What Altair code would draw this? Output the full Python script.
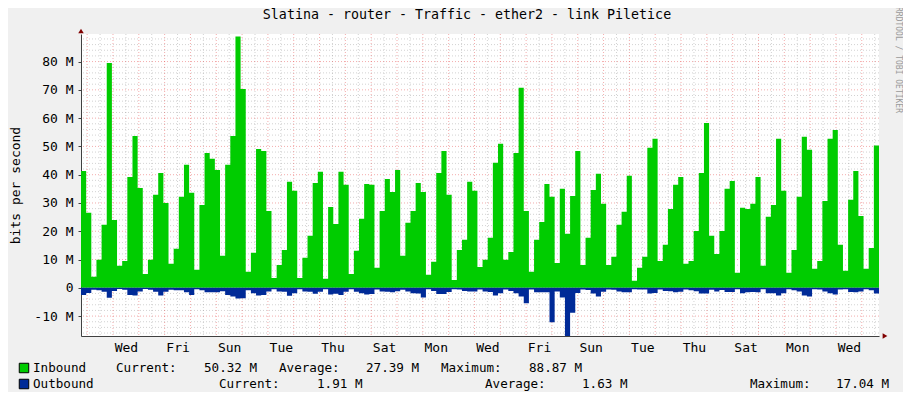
import altair as alt
import pandas as pd

# ---------------- data (Mbit/s) ----------------
inbound = [
    41.3, 26.5, 3.9, 9.9, 22.3, 79.5, 24.0, 7.8, 9.5, 39.2, 53.7, 35.3, 4.9, 9.9, 32.9, 40.6,
    30.0, 8.5, 13.8, 32.2, 43.5, 33.6, 6.4, 29.3, 47.7, 45.6, 41.7, 11.3, 43.5, 53.7, 88.9,
    70.3, 5.7, 12.4, 49.1, 48.4, 27.2, 3.5, 8.1, 13.4, 37.5, 34.3, 3.5, 10.6, 18.4, 37.1, 41.0,
    3.2, 28.6, 22.6, 41.0, 36.4, 4.9, 13.1, 24.4, 36.7, 36.4, 7.1, 27.2, 38.5, 33.9, 41.7,
    11.3, 23.0, 27.2, 37.1, 33.9, 4.6, 9.2, 40.6, 48.4, 32.9, 2.8, 13.4, 17.0, 37.5, 34.3,
    7.4, 9.9, 17.7, 44.2, 50.9, 9.9, 12.7, 47.7, 70.7, 27.2, 5.7, 17.0, 23.3, 36.7, 32.2, 8.8,
    35.0, 19.1, 32.5, 48.4, 8.1, 17.7, 34.6, 40.3, 29.7, 8.1, 11.0, 22.3, 26.9, 39.6, 2.5,
    7.1, 11.0, 49.5, 52.7, 9.5, 15.2, 27.9, 36.4, 39.2, 8.5, 9.5, 20.1, 40.6, 58.3, 18.4, 12.0,
    20.1, 35.0, 37.8, 5.3, 28.3, 27.9, 29.7, 39.2, 7.8, 25.1, 29.3, 52.7, 34.3, 5.3, 13.4,
    32.2, 53.4, 48.8, 6.7, 9.5, 30.7, 52.7, 55.8, 15.2, 6.0, 31.1, 41.3, 25.4, 6.7, 14.1, 50.3,
]
outbound = [
    2.5, 1.8, 0.7, 0.9, 1.4, 3.5, 1.1, 0.4, 0.7, 2.5, 2.7, 1.3, 0.4, 0.7, 1.4, 2.7,
    1.4, 0.7, 0.9, 0.9, 1.6, 2.5, 0.5, 0.9, 1.6, 1.6, 1.6, 1.2, 2.5, 3.1, 3.8,
    3.7, 0.9, 1.9, 2.7, 2.5, 1.3, 0.5, 1.3, 1.4, 2.8, 1.9, 0.5, 1.3, 1.4, 2.1, 1.4,
    0.5, 2.4, 2.1, 2.5, 1.4, 0.5, 1.4, 1.9, 2.4, 2.2, 0.6, 1.3, 1.4, 1.6, 1.2,
    0.7, 1.3, 1.9, 2.0, 3.4, 0.5, 1.1, 2.2, 2.2, 1.5, 0.5, 0.6, 1.1, 1.3, 1.3,
    0.6, 1.3, 1.5, 2.7, 1.9, 0.6, 1.1, 1.9, 3.1, 5.5, 0.6, 1.6, 1.6, 1.6, 12.2, 1.3,
    3.4, 17.0, 8.8, 1.8, 0.6, 0.8, 2.0, 3.1, 1.4, 0.6, 0.7, 1.3, 1.6, 1.6, 0.5,
    0.6, 0.6, 2.0, 1.8, 0.6, 1.1, 1.2, 1.6, 1.4, 0.6, 0.9, 1.2, 2.0, 2.0, 0.7, 1.3,
    0.8, 1.5, 1.5, 0.5, 1.9, 1.6, 1.5, 1.6, 0.5, 1.9, 1.9, 2.7, 1.9, 0.5, 0.9,
    1.3, 2.7, 3.1, 0.5, 0.6, 1.3, 1.9, 2.4, 0.6, 0.5, 1.5, 1.6, 1.3, 0.5, 0.9, 2.0,
]

# time axis in days; day 0 = Monday 00:00
t_start = 0.761          # first sample (Monday ~18:15)
t_span = 30.906          # days shown
day_names = ["Mon", "Tue", "Wed", "Thu", "Fri", "Sat", "Sun"]
x_label_days = [d + 0.5 for d in range(2, 31, 2)]      # Wed, Fri, ... at noon
midnights = list(range(1, 32))
noons = [d + 0.5 for d in range(1, 32)]

y_min, y_max = -17.04, 89.75
y_major = [-10, 0, 10, 20, 30, 40, 50, 60, 70, 80]
y_minor = [v for v in range(-16, 90, 2) if v % 10 != 0]

title_text = "Slatina - router - Traffic - ether2 - link Piletice"
legend_in = ["Inbound", "Current:", "50.32 M", "Average:", "27.39 M", "Maximum:", "88.87 M"]
legend_out = ["Outbound", "Current:", "1.91 M", "Average:", "1.63 M", "Maximum:", "17.04 M"]
side_text = "RRDTOOL / TOBI OETIKER"

IN_COLOR = "#00CC00"
OUT_COLOR = "#002A97"
FONT = "DejaVu Sans Mono"

# ---------------- build table ----------------
n = len(inbound)
step = t_span / n
xs = [t_start + i * step for i in range(n + 1)]
df = pd.DataFrame({
    "t": xs,
    "inb": inbound + [inbound[-1]],
    "outb": [-v for v in outbound] + [-outbound[-1]],
})

X_SCALE = alt.Scale(domain=[t_start, t_start + t_span], nice=False, zero=False)
Y_SCALE = alt.Scale(domain=[y_min, y_max], nice=False, zero=False)

W, H = 798, 302

label_expr_x = "['" + "','".join(day_names) + "'][floor(datum.value) % 7]"

x_axis = alt.Axis(
    values=x_label_days,
    labelExpr=label_expr_x,
    title=None, grid=False, ticks=False, labelFont=FONT, labelFontSize=13,
    labelColor="#000000", labelPadding=5, domainColor="#404040", labelFlush=False,
)
y_axis = alt.Axis(
    values=y_major,
    labelExpr="datum.value == 0 ? '0' : datum.value + ' M'",
    title="bits per second", titleFont=FONT, titleFontSize=13, titleFontWeight="normal",
    titleColor="#000000", titleAngle=270, titleX=-66, titleY=151, titleAlign="center",
    titleBaseline="middle",
    grid=False, tickSize=3, tickColor="#404040", labelFont=FONT, labelFontSize=13,
    labelColor="#000000", labelPadding=5, domainColor="#404040",
)

# grid layers (share the same axis definitions so the axes merge cleanly)
def hgrid(vals, color, opacity):
    return alt.Chart(pd.DataFrame({"v": vals})).mark_rule(
        color=color, strokeDash=[1, 2], strokeWidth=1, opacity=opacity
    ).encode(y=alt.Y("v:Q", scale=Y_SCALE, axis=y_axis))

def vgrid(vals, color, opacity):
    return alt.Chart(pd.DataFrame({"v": vals})).mark_rule(
        color=color, strokeDash=[1, 2], strokeWidth=1, opacity=opacity
    ).encode(x=alt.X("v:Q", scale=X_SCALE, axis=x_axis))

g_minor_h = hgrid(y_minor, "#8F8F8F", 0.4)
g_minor_v = vgrid(noons, "#8F8F8F", 0.4)
g_major_h = hgrid(y_major, "#E03030", 0.4)
g_major_v = vgrid(midnights, "#E03030", 0.4)

area_in = alt.Chart(df).mark_area(interpolate="step-after", color=IN_COLOR).encode(
    x=alt.X("t:Q", scale=X_SCALE, axis=x_axis),
    y=alt.Y("inb:Q", scale=Y_SCALE, axis=y_axis),
)
area_out = alt.Chart(df).mark_area(interpolate="step-after", color=OUT_COLOR).encode(
    x=alt.X("t:Q", scale=X_SCALE, axis=x_axis),
    y=alt.Y("outb:Q", scale=Y_SCALE, axis=y_axis),
)

one = pd.DataFrame({"k": [0]})

def label(text, px, py, size=12.6, color="#000000", angle=0, align="left"):
    return alt.Chart(one).mark_text(
        text=text, font=FONT, fontSize=size, color=color, align=align,
        baseline="middle", angle=angle,
    ).encode(x=alt.value(px), y=alt.value(py))

layers = [g_minor_h, g_minor_v, g_major_h, g_major_v, area_in, area_out]

# title and side text
layers.append(label(title_text, 386, -19, size=13.3, align="center"))
layers.append(label(side_text, 817, 26, size=8, color="#9a9a9a", angle=90, align="center"))

# axis arrows
layers.append(alt.Chart(one).mark_point(shape="triangle-up", filled=True, color="#800000", size=30, opacity=1)
              .encode(x=alt.value(0), y=alt.value(-3)))
layers.append(alt.Chart(one).mark_point(shape="triangle-right", filled=True, color="#800000", size=30, opacity=1)
              .encode(x=alt.value(804), y=alt.value(H)))

# legend
in_x = [-48, 35, 123, 198, 285, 360, 448]
out_x = [-48, 138, 236, 404, 501, 669, 755]
for txt, px in zip(legend_in, in_x):
    layers.append(label(txt, px, 334))
for txt, px in zip(legend_out, out_x):
    layers.append(label(txt, px, 350))
layers.append(alt.Chart(one).mark_square(size=90, color=IN_COLOR, stroke="#000000", strokeWidth=1, opacity=1)
              .encode(x=alt.value(-57), y=alt.value(334)))
layers.append(alt.Chart(one).mark_square(size=90, color=OUT_COLOR, stroke="#000000", strokeWidth=1, opacity=1)
              .encode(x=alt.value(-57), y=alt.value(350)))

chart = alt.layer(*layers).properties(
    width=W, height=H,
    autosize=alt.AutoSizeParams(type="none"),
    padding={"left": 73, "top": 26, "right": 24, "bottom": 56},
    background="#F0F0F0",
).configure_view(fill="#FFFFFF", strokeWidth=0)

chart.save("out.html", embed_options={"renderer": "svg", "actions": False})
